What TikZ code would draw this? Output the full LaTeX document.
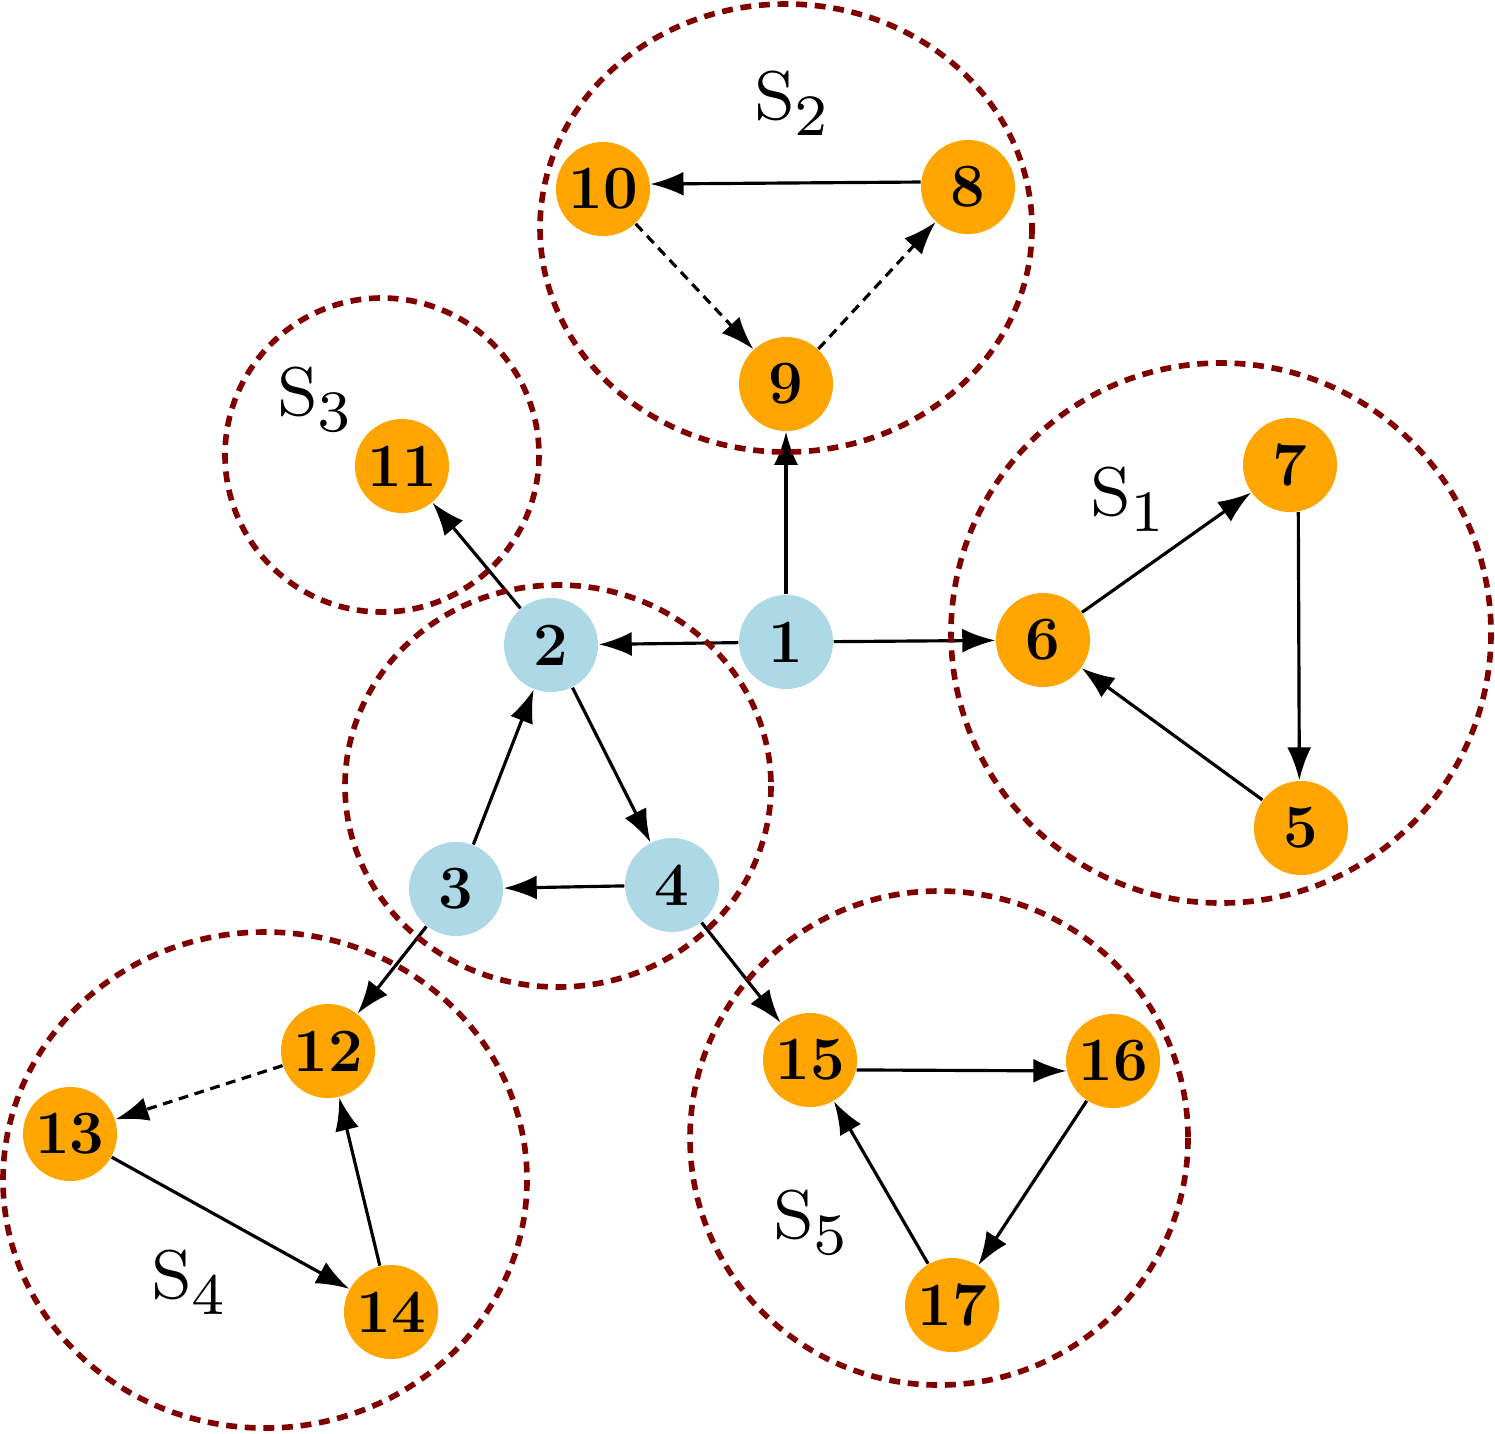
\documentclass[tikz,border=0pt]{standalone}
\usetikzlibrary{arrows.meta}
\definecolor{nodeorange}{HTML}{FFA500}
\definecolor{nodeblue}{HTML}{ADD8E6}
\definecolor{ringred}{HTML}{800000}
\pgfdeclarelayer{edgelayer}
\pgfdeclarelayer{ringlayer}
\pgfsetlayers{edgelayer,ringlayer,main}
\newcommand{\setlabel}[1]{\scalebox{2.45}{\fontsize{8}{9}\selectfont S\raisebox{-1.9pt}{\fontsize{6.8}{8}\selectfont #1}}}
\begin{document}
\begin{tikzpicture}[x=0.01cm,y=-0.01cm,
  vnode/.style={circle,inner sep=0pt,minimum size=0.94cm,font=\fontsize{17.5}{20}\selectfont\bfseries},
  onode/.style={vnode,fill=nodeorange},
  bnode/.style={vnode,fill=nodeblue},
  ring/.style={draw=ringred,line width=1.6pt,dash pattern=on 3.1pt off 2.2pt},
  edge/.style={draw,line width=0.9pt,-{Latex[length=0.33cm,width=0.24cm]}},
  dedge/.style={edge,dash pattern=on 2.8pt off 1.9pt},
  slabel/.style={inner sep=0pt}]
\useasboundingbox (0,0) rectangle (1495,1433);
% nodes
\node[bnode] (n1) at (786,642) {1};
\node[bnode] (n2) at (551,645) {2};
\node[bnode] (n3) at (456,889) {3};
\node[bnode] (n4) at (672,885) {4};
\node[onode] (n5) at (1301,828) {5};
\node[onode] (n6) at (1043,640) {6};
\node[onode] (n7) at (1290,465) {7};
\node[onode] (n8) at (968,187) {8};
\node[onode] (n9) at (786,384) {9};
\node[onode] (n10) at (603,189) {10};
\node[onode] (n11) at (402,466) {11};
\node[onode] (n12) at (328,1051) {12};
\node[onode] (n13) at (70,1134) {13};
\node[onode] (n14) at (391,1312) {14};
\node[onode] (n15) at (810,1060) {15};
\node[onode] (n16) at (1113,1061) {16};
\node[onode] (n17) at (952,1305) {17};
% rings
\begin{pgfonlayer}{ringlayer}
\draw[ring] (786,228) ellipse [x radius=246, y radius=224];
\draw[ring] (382,455) circle [radius=157];
\draw[ring] (1221,633) circle [radius=270];
\draw[ring] (558,786) ellipse [x radius=213, y radius=201];
\draw[ring] (265,1180) ellipse [x radius=262, y radius=248];
\draw[ring] (939,1138) ellipse [x radius=249, y radius=247];
\end{pgfonlayer}
% labels
\node[slabel] (s1) at (1127,499) {\setlabel{1}};
\node[slabel] (s2) at (791,103) {\setlabel{2}};
\node[slabel] (s3) at (314,400) {\setlabel{3}};
\node[slabel] (s4) at (188,1282) {\setlabel{4}};
\node[slabel] (s5) at (810,1223) {\setlabel{5}};
% edges
\begin{pgfonlayer}{edgelayer}
\draw[edge] (n1) -- (n2);
\draw[edge] (n1) -- (n9);
\draw[edge] (n1) -- (n6);
\draw[edge] (n2) -- (n11);
\draw[edge] (n2) -- (n4);
\draw[edge] (n3) -- (n2);
\draw[edge] (n4) -- (n3);
\draw[edge] (n3) -- (n12);
\draw[edge] (n4) -- (n15);
\draw[edge] (n6) -- (n7);
\draw[edge] (n7.-80) -- (n5.92);
\draw[edge] (n5) -- (n6);
\draw[edge] (n8.174) -- (n10.6);
\draw[dedge] (n10) -- (n9);
\draw[dedge] (n9) -- (n8);
\draw[dedge] (n12) -- (n13);
\draw[edge] (n13) -- (n14);
\draw[edge] (n14) -- (n12);
\draw[edge] (n15.-12) -- (n16.-168);
\draw[edge] (n16) -- (n17);
\draw[edge] (n17) -- (n15);
\end{pgfonlayer}
\end{tikzpicture}
\end{document}
